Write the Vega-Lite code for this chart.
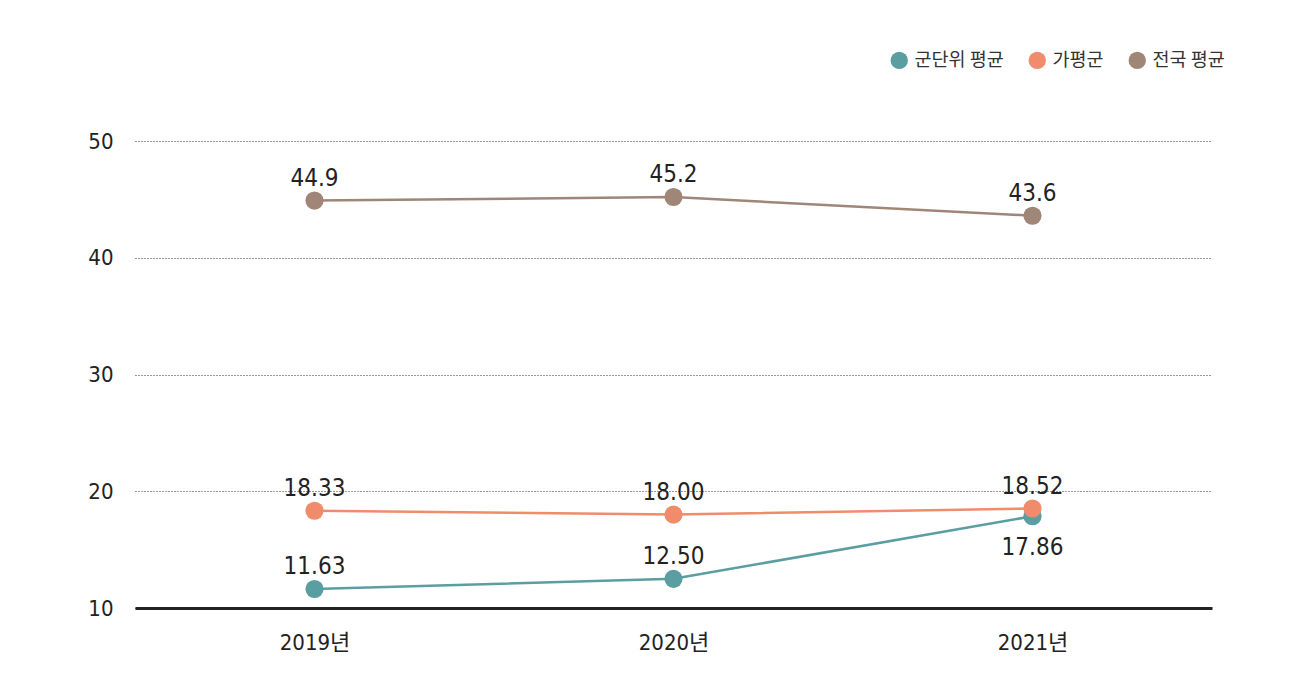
{
  "$schema": "https://vega.github.io/schema/vega-lite/v6.json",
  "width": 1077,
  "height": 467,
  "autosize": {"type": "none"},
  "padding": {"left": 135, "top": 141, "right": 77, "bottom": 76},
  "background": "#ffffff",
  "config": {
    "view": {"stroke": null},
    "font": "DejaVu Sans Condensed, Roboto, Noto Sans CJK KR"
  },
  "data": {
    "values": [
      {"series": "군단위 평균", "year": "2019년", "value": 11.63, "label": "11.63"},
      {"series": "군단위 평균", "year": "2020년", "value": 12.50, "label": "12.50"},
      {"series": "군단위 평균", "year": "2021년", "value": 17.86, "label": "17.86"},
      {"series": "가평군", "year": "2019년", "value": 18.33, "label": "18.33"},
      {"series": "가평군", "year": "2020년", "value": 18.00, "label": "18.00"},
      {"series": "가평군", "year": "2021년", "value": 18.52, "label": "18.52"},
      {"series": "전국 평균", "year": "2019년", "value": 44.9, "label": "44.9"},
      {"series": "전국 평균", "year": "2020년", "value": 45.2, "label": "45.2"},
      {"series": "전국 평균", "year": "2021년", "value": 43.6, "label": "43.6"}
    ]
  },
  "encoding": {
    "x": {
      "field": "year", "type": "ordinal", "title": null,
      "scale": {"type": "point", "padding": 0.5},
      "axis": {
        "labelAngle": 0, "labelFont": "DejaVu Sans Condensed, Roboto, Noto Sans CJK KR", "labelFontSize": 22,
        "labelColor": "#222222", "labelPadding": 24, "ticks": false,
        "domainColor": "#222222", "domainWidth": 3, "grid": false
      }
    },
    "y": {
      "field": "value", "type": "quantitative", "title": null,
      "scale": {"domain": [10, 50], "nice": false, "zero": false},
      "axis": {
        "values": [10, 20, 30, 40, 50], "labelFont": "DejaVu Sans Condensed, Roboto", "labelFontSize": 22,
        "labelColor": "#222222", "labelPadding": 22, "ticks": false, "domain": false,
        "grid": true, "gridColor": "#333333", "gridDash": [1, 2], "gridWidth": 1, "gridOpacity": 1
      }
    },
    "color": {
      "field": "series", "type": "nominal",
      "scale": {
        "domain": ["군단위 평균", "가평군", "전국 평균"],
        "range": ["#5b9ea2", "#f08b6b", "#a08676"]
      },
      "legend": {
        "title": null, "orient": "none", "direction": "horizontal",
        "legendX": 755, "legendY": -90,
        "symbolType": "circle", "symbolSize": 300, "symbolStrokeWidth": 0, "symbolOpacity": 1,
        "labelFont": "Noto Sans CJK KR", "labelFontSize": 18.5, "labelColor": "#333333",
        "labelOffset": 6, "columnPadding": 24
      }
    }
  },
  "layer": [
    {
      "mark": {"type": "line", "strokeWidth": 2.5}
    },
    {
      "mark": {"type": "point", "filled": true, "opacity": 1, "size": 330, "shape": "circle"}
    },
    {
      "transform": [{"filter": "datum.series !== '군단위 평균' || datum.year !== '2021년'"}],
      "mark": {"type": "text", "fontSize": 24, "color": "#222222", "baseline": "alphabetic", "dy": -15},
      "encoding": {"text": {"field": "label"}, "color": {"value": "#222222"}}
    },
    {
      "transform": [{"filter": "datum.series === '군단위 평균' && datum.year === '2021년'"}],
      "mark": {"type": "text", "fontSize": 24, "color": "#222222", "baseline": "top", "dy": 20},
      "encoding": {"text": {"field": "label"}, "color": {"value": "#222222"}}
    }
  ]
}
